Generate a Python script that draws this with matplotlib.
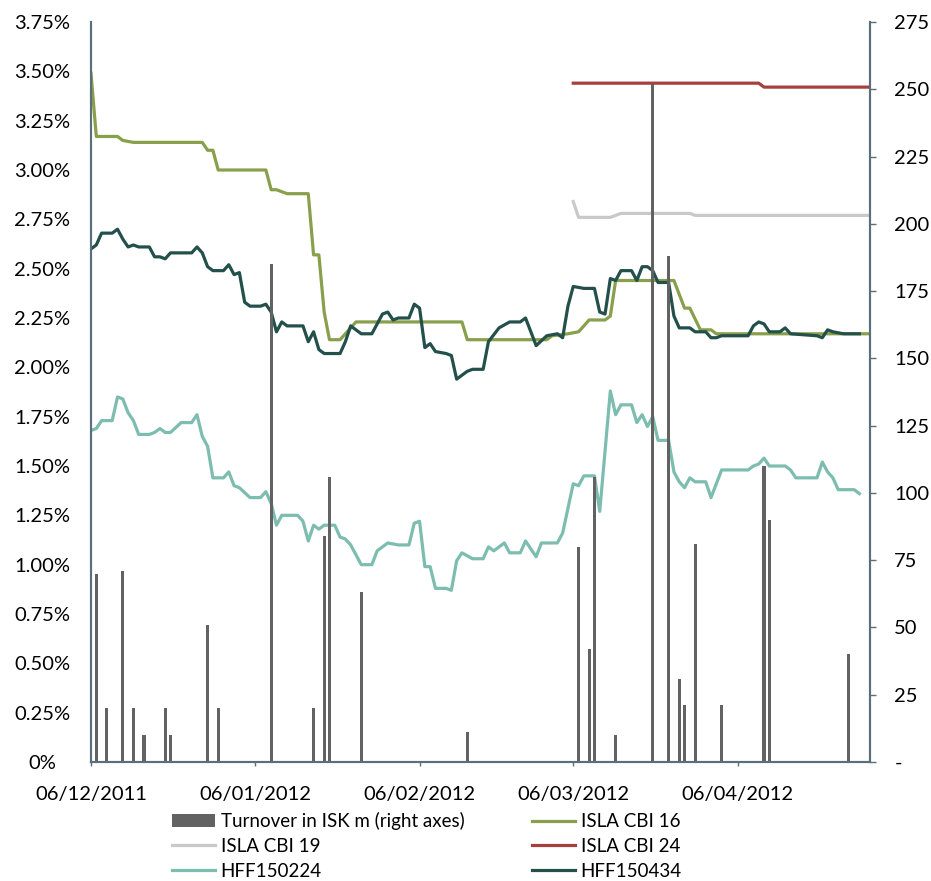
import pandas as pd
import matplotlib
matplotlib.use("Agg")
import matplotlib.pyplot as plt
import matplotlib.dates as mdates
from matplotlib.ticker import FuncFormatter, MultipleLocator

plt.rcParams['font.family'] = ['Lato', 'DejaVu Sans']

# Yields (%), left axis
cbi16_dates = ["2011-12-06", "2011-12-07", "2011-12-11", "2011-12-12", "2011-12-14", "2011-12-27",
               "2011-12-28", "2011-12-29", "2011-12-30", "2012-01-08", "2012-01-09", "2012-01-10",
               "2012-01-12", "2012-01-16", "2012-01-17", "2012-01-18", "2012-01-19", "2012-01-20",
               "2012-01-22", "2012-01-25", "2012-02-14", "2012-02-15", "2012-03-01", "2012-03-02",
               "2012-03-05", "2012-03-07", "2012-03-09", "2012-03-12", "2012-03-13", "2012-03-14",
               "2012-03-25", "2012-03-27", "2012-03-28", "2012-03-30", "2012-04-01", "2012-04-02",
               "2012-05-01"]
cbi16 = [3.49, 3.17, 3.17, 3.15, 3.14, 3.14,
         3.10, 3.10, 3.00, 3.00, 2.90, 2.90,
         2.88, 2.88, 2.57, 2.57, 2.28, 2.14,
         2.14, 2.23, 2.23, 2.14, 2.14, 2.16,
         2.17, 2.18, 2.24, 2.24, 2.26, 2.44,
         2.44, 2.30, 2.30, 2.19, 2.19, 2.17,
         2.17]

cbi19_dates = ["2012-03-06", "2012-03-07", "2012-03-13", "2012-03-15", "2012-03-28", "2012-03-29",
               "2012-05-01"]
cbi19 = [2.84, 2.76, 2.76, 2.78, 2.78, 2.77, 2.77]

cbi24_dates = ["2012-03-06", "2012-04-10", "2012-04-11", "2012-05-01"]
cbi24 = [3.44, 3.44, 3.42, 3.42]

hff224_dates = ["2011-12-06", "2011-12-07", "2011-12-08", "2011-12-10", "2011-12-11", "2011-12-12",
                "2011-12-13", "2011-12-14", "2011-12-15", "2011-12-17", "2011-12-18", "2011-12-19",
                "2011-12-20", "2011-12-21", "2011-12-23", "2011-12-25", "2011-12-26", "2011-12-27",
                "2011-12-28", "2011-12-29", "2011-12-31", "2012-01-01", "2012-01-02", "2012-01-03",
                "2012-01-05", "2012-01-07", "2012-01-08", "2012-01-09", "2012-01-10", "2012-01-11",
                "2012-01-14", "2012-01-15", "2012-01-16", "2012-01-17", "2012-01-18", "2012-01-19",
                "2012-01-21", "2012-01-22", "2012-01-23", "2012-01-24", "2012-01-26", "2012-01-28",
                "2012-01-29", "2012-01-31", "2012-02-02", "2012-02-04", "2012-02-05", "2012-02-06",
                "2012-02-07", "2012-02-08", "2012-02-09", "2012-02-11", "2012-02-12", "2012-02-13",
                "2012-02-14", "2012-02-16", "2012-02-18", "2012-02-19", "2012-02-20", "2012-02-22",
                "2012-02-23", "2012-02-25", "2012-02-26", "2012-02-28", "2012-02-29", "2012-03-03",
                "2012-03-04", "2012-03-06", "2012-03-07", "2012-03-08", "2012-03-10", "2012-03-11",
                "2012-03-13", "2012-03-14", "2012-03-15", "2012-03-17", "2012-03-18", "2012-03-19",
                "2012-03-20", "2012-03-21", "2012-03-22", "2012-03-24", "2012-03-25", "2012-03-26",
                "2012-03-27", "2012-03-28", "2012-03-29", "2012-03-31", "2012-04-01", "2012-04-03",
                "2012-04-08", "2012-04-09", "2012-04-10", "2012-04-11", "2012-04-12", "2012-04-15",
                "2012-04-16", "2012-04-17", "2012-04-21", "2012-04-22", "2012-04-23", "2012-04-24",
                "2012-04-25", "2012-04-28", "2012-04-29"]
hff224 = [1.68, 1.69, 1.73, 1.73, 1.85, 1.84,
          1.77, 1.73, 1.66, 1.66, 1.67, 1.69,
          1.67, 1.67, 1.72, 1.72, 1.76, 1.65,
          1.60, 1.44, 1.44, 1.47, 1.40, 1.39,
          1.34, 1.34, 1.37, 1.31, 1.20, 1.25,
          1.25, 1.22, 1.12, 1.20, 1.18, 1.20,
          1.20, 1.14, 1.13, 1.10, 1.00, 1.00,
          1.07, 1.11, 1.10, 1.10, 1.21, 1.22,
          0.99, 0.99, 0.88, 0.88, 0.87, 1.02,
          1.06, 1.03, 1.03, 1.09, 1.07, 1.11,
          1.06, 1.06, 1.12, 1.04, 1.11, 1.11,
          1.16, 1.41, 1.40, 1.45, 1.45, 1.27,
          1.88, 1.76, 1.81, 1.81, 1.72, 1.76,
          1.70, 1.75, 1.63, 1.63, 1.47, 1.42,
          1.39, 1.44, 1.42, 1.42, 1.34, 1.48,
          1.48, 1.50, 1.51, 1.54, 1.50, 1.50,
          1.48, 1.44, 1.44, 1.52, 1.47, 1.44,
          1.38, 1.38, 1.36]

hff434_dates = ["2011-12-06", "2011-12-07", "2011-12-08", "2011-12-10", "2011-12-11", "2011-12-12",
                "2011-12-13", "2011-12-14", "2011-12-15", "2011-12-17", "2011-12-18", "2011-12-19",
                "2011-12-20", "2011-12-21", "2011-12-25", "2011-12-26", "2011-12-27", "2011-12-28",
                "2011-12-29", "2011-12-31", "2012-01-01", "2012-01-02", "2012-01-03", "2012-01-04",
                "2012-01-05", "2012-01-07", "2012-01-08", "2012-01-09", "2012-01-10", "2012-01-11",
                "2012-01-12", "2012-01-15", "2012-01-16", "2012-01-17", "2012-01-18", "2012-01-19",
                "2012-01-22", "2012-01-23", "2012-01-24", "2012-01-26", "2012-01-28", "2012-01-30",
                "2012-01-31", "2012-02-01", "2012-02-02", "2012-02-04", "2012-02-05", "2012-02-06",
                "2012-02-07", "2012-02-08", "2012-02-09", "2012-02-11", "2012-02-12", "2012-02-13",
                "2012-02-15", "2012-02-16", "2012-02-18", "2012-02-19", "2012-02-21", "2012-02-23",
                "2012-02-25", "2012-02-26", "2012-02-28", "2012-03-01", "2012-03-03", "2012-03-04",
                "2012-03-05", "2012-03-06", "2012-03-08", "2012-03-10", "2012-03-11", "2012-03-12",
                "2012-03-13", "2012-03-14", "2012-03-15", "2012-03-17", "2012-03-18", "2012-03-19",
                "2012-03-20", "2012-03-21", "2012-03-22", "2012-03-24", "2012-03-25", "2012-03-26",
                "2012-03-28", "2012-03-29", "2012-03-31", "2012-04-01", "2012-04-02", "2012-04-03",
                "2012-04-08", "2012-04-09", "2012-04-10", "2012-04-11", "2012-04-12", "2012-04-14",
                "2012-04-15", "2012-04-16", "2012-04-21", "2012-04-22", "2012-04-23", "2012-04-24",
                "2012-04-26", "2012-04-29"]
hff434 = [2.60, 2.62, 2.68, 2.68, 2.70, 2.65,
          2.61, 2.62, 2.61, 2.61, 2.56, 2.56,
          2.55, 2.58, 2.58, 2.61, 2.58, 2.51,
          2.49, 2.49, 2.52, 2.47, 2.48, 2.33,
          2.31, 2.31, 2.32, 2.28, 2.18, 2.23,
          2.21, 2.21, 2.13, 2.18, 2.09, 2.07,
          2.07, 2.13, 2.21, 2.17, 2.17, 2.27,
          2.28, 2.24, 2.25, 2.25, 2.32, 2.30,
          2.10, 2.12, 2.08, 2.07, 2.06, 1.94,
          1.98, 1.99, 1.99, 2.13, 2.20, 2.23,
          2.23, 2.25, 2.11, 2.16, 2.17, 2.15,
          2.31, 2.41, 2.40, 2.40, 2.28, 2.27,
          2.45, 2.44, 2.49, 2.49, 2.44, 2.51,
          2.51, 2.49, 2.43, 2.43, 2.26, 2.20,
          2.20, 2.18, 2.18, 2.15, 2.15, 2.16,
          2.16, 2.21, 2.23, 2.22, 2.18, 2.18,
          2.20, 2.17, 2.16, 2.15, 2.19, 2.18,
          2.17, 2.17]

# Turnover in ISK m, right axis
turnover_dates = ["2011-12-07", "2011-12-09", "2011-12-12", "2011-12-14", "2011-12-16", "2011-12-20",
                  "2011-12-21", "2011-12-28", "2011-12-30", "2012-01-09", "2012-01-17", "2012-01-19",
                  "2012-01-20", "2012-01-26", "2012-02-15", "2012-03-07", "2012-03-09", "2012-03-10",
                  "2012-03-14", "2012-03-21", "2012-03-24", "2012-03-26", "2012-03-27", "2012-03-29",
                  "2012-04-03", "2012-04-11", "2012-04-12", "2012-04-27"]
turnover = [70, 20, 71, 20, 10, 20,
            10, 51, 20, 185, 20, 84,
            106, 63, 11, 80, 42, 106,
            10, 252, 188, 31, 21, 81,
            21, 110, 90, 40]

x_ticks = ["2011-12-06", "2012-01-06", "2012-02-06", "2012-03-06", "2012-04-06"]

AXIS_COLOR = '#5B6F7A'

fig = plt.figure(figsize=(9.31, 8.81), dpi=100)
ax = fig.add_axes([91 / 931, 1 - 762 / 881, 779 / 931, 740 / 881])
ax2 = ax.twinx()

lines = {}
series = [
    ("ISLA CBI 16", cbi16_dates, cbi16, '#88A04C'),
    ("ISLA CBI 19", cbi19_dates, cbi19, '#C9C9C9'),
    ("ISLA CBI 24", cbi24_dates, cbi24, '#A5403C'),
    ("HFF150224", hff224_dates, hff224, '#7DBDB0'),
    ("HFF150434", hff434_dates, hff434, '#23504A'),
]
for name, d, v, c in series:
    lines[name], = ax.plot(pd.to_datetime(d), v, color=c, lw=2.3, label=name,
                           solid_joinstyle='round')

bars = ax2.bar(pd.to_datetime(turnover_dates), turnover, width=0.6, color='#626262',
               label="Turnover in ISK m (right axes)")

ax.set_xlim(pd.Timestamp("2011-12-06"), pd.Timestamp("2012-05-01"))
ax.set_ylim(0, 3.75)
ax2.set_ylim(0, 275)

ax.yaxis.set_major_locator(MultipleLocator(0.25))
ax.yaxis.set_major_formatter(FuncFormatter(lambda v, p: "0%" if v == 0 else f"{v:.2f}%"))
ax2.yaxis.set_major_locator(MultipleLocator(25))
ax2.yaxis.set_major_formatter(FuncFormatter(lambda v, p: "-" if v == 0 else f"{v:.0f}"))

ax.set_xticks(pd.to_datetime(x_ticks))
ax.xaxis.set_major_formatter(mdates.DateFormatter('%d/%m/%Y'))

ax.tick_params(axis='y', length=0, pad=35, labelsize=14.5)
for lab in ax.get_yticklabels():
    lab.set_ha('center')
ax.tick_params(axis='x', length=3, width=1, color=AXIS_COLOR, pad=14, labelsize=14.5)
ax2.tick_params(axis='y', length=4.5, width=1, color=AXIS_COLOR, pad=13, labelsize=14.5)

for a in (ax, ax2):
    a.spines['top'].set_visible(False)
    for s in ('left', 'right', 'bottom'):
        a.spines[s].set_color(AXIS_COLOR)
        a.spines[s].set_linewidth(1.5)

# legend is filled column by column
handles = [bars, lines["ISLA CBI 19"], lines["HFF150224"],
           lines["ISLA CBI 16"], lines["ISLA CBI 24"], lines["HFF150434"]]
fig.legend(handles=handles, labels=[h.get_label() for h in handles], ncol=2,
           loc='upper left', bbox_to_anchor=(172 / 931, 1 - 812 / 881),
           frameon=False, fontsize=13.5, borderpad=0, borderaxespad=0,
           handlelength=2.3, handletextpad=0.3, columnspacing=3.6,
           labelspacing=0.42)

fig.savefig("out.png", dpi=100)
